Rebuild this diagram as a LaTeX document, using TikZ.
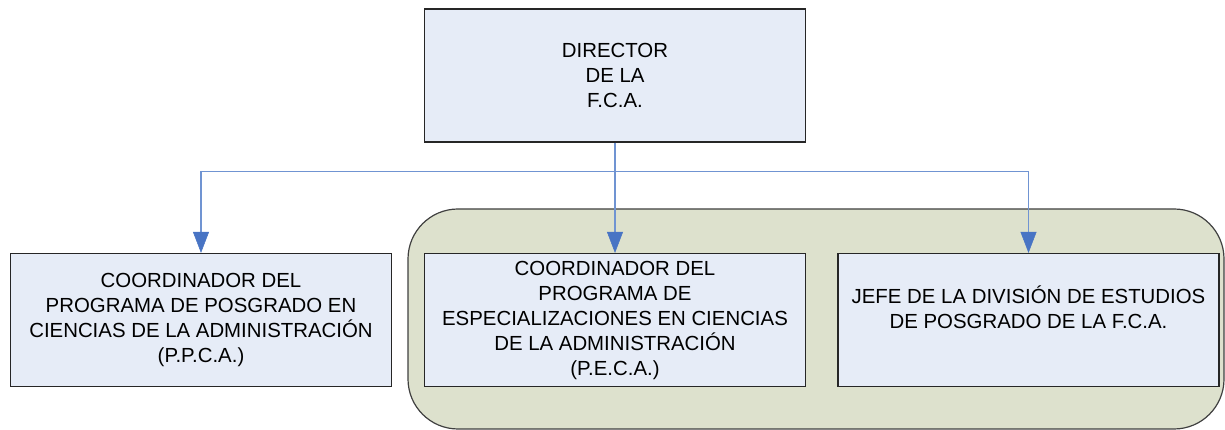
\documentclass[tikz,border=0pt]{standalone}
\usepackage{fontspec}
\setmainfont{Liberation Sans}
\usepackage{tikz}
\usetikzlibrary{arrows.meta, positioning, calc}

\definecolor{cajaazul}{RGB}{230,236,247}
\definecolor{fondoverde}{RGB}{221,225,205}
\definecolor{lineaazul}{RGB}{112,148,210}
\definecolor{puntaazul}{RGB}{72,116,196}

\tikzset{
  cargo/.style={draw=black!85, line width=1.2pt, fill=cajaazul, align=center,
    minimum width=381pt, minimum height=133pt, inner sep=0pt,
    font=\fontsize{20.4}{25}\selectfont},
  enlace/.style={draw=lineaazul, line width=1.6pt,
    -{Triangle[length=21pt,width=16pt,color=puntaazul,line width=0.5pt]}}
}

\begin{document}
\begin{tikzpicture}[x=1pt,y=1pt]
        \useasboundingbox (0,0) rectangle (1225,430);
        % fondo redondeado
        \draw[draw=black!75, line width=1.2pt, fill=fondoverde, rounded corners=50pt]
            (408,1) rectangle (1224,221);

        \node[cargo] (dir) at (615,354.5) {DIRECTOR\\DE LA\\F.C.A.};
        \node[cargo] (ppca) at (201,110) {COORDINADOR DEL\\PROGRAMA DE POSGRADO EN\\CIENCIAS DE LA ADMINISTRACIÓN\\(P.P.C.A.)};
        \node[cargo] (peca) at (615,110) {COORDINADOR DEL\\PROGRAMA DE\\ESPECIALIZACIONES EN CIENCIAS\\DE LA ADMINISTRACIÓN\\(P.E.C.A.)};
        \node[cargo] (jefe) at (1028.5,110) {JEFE DE LA DIVISIÓN DE ESTUDIOS\\DE POSGRADO DE LA F.C.A.\\\mbox{}};

        \coordinate (union) at ($(dir.south)+(0,-29)$);

        \draw[draw=lineaazul, line width=1.6pt] (dir.south)--(union);
        \draw[enlace] (union) -| (ppca.north);
        \draw[enlace] (union) -- (peca.north);
        \draw[enlace] (union) -| (jefe.north);
    \end{tikzpicture}
\end{document}
